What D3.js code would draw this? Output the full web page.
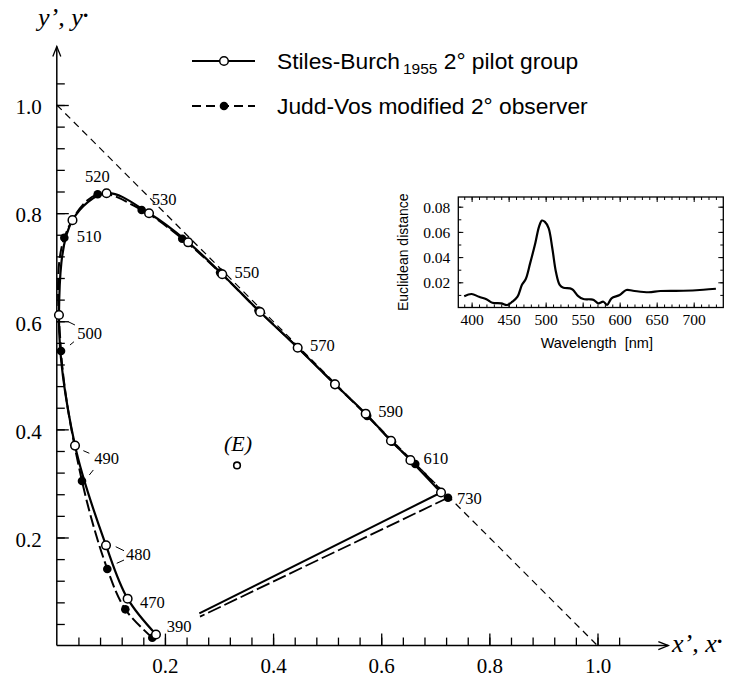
<!DOCTYPE html>
<html>
<head>
<meta charset="utf-8">
<script src="https://cdn.jsdelivr.net/npm/d3@7/dist/d3.min.js"></script>
<style>
  body { margin: 0; background: #fff; }
  svg { display: block; }
</style>
</head>
<body>
<svg id="chart" width="739" height="679"></svg>
<script>
/* chromaticity diagram: Stiles-Burch 1955 vs Judd-Vos, with distance inset */

// ---------- data ----------
const WAVES = [390, 470, 480, 490, 500, 510, 520, 530, 540, 550, 560, 570, 580, 590, 600, 610, 730];
const SB_X = [0.1834, 0.131, 0.091, 0.0337, 0.004, 0.029, 0.092, 0.1706, 0.243, 0.306, 0.376, 0.4455, 0.5145, 0.5713, 0.618, 0.654, 0.7106];
const SB_Y = [0.0206, 0.0868, 0.1855, 0.370, 0.6115, 0.787, 0.8367, 0.7997, 0.746, 0.687, 0.617, 0.551, 0.4833, 0.429, 0.379, 0.343, 0.2832];
const JV_X = [0.1766, 0.1267, 0.0934, 0.0466, 0.0078, 0.0139, 0.0756, 0.157, 0.232, 0.302, 0.373, 0.445, 0.5135, 0.574, 0.620, 0.663, 0.7235];
const JV_Y = [0.0146, 0.0671, 0.1417, 0.3045, 0.545, 0.7545, 0.8348, 0.8058, 0.7527, 0.690, 0.620, 0.552, 0.4845, 0.425, 0.377, 0.336, 0.2735];

// purple line ends (the lines start at the 730 points)
const SB_PURPLE_END = [0.2636, 0.0595];
const JV_PURPLE_END = [0.2648, 0.0535];

const E_POINT = [0.3333, 0.3333];

const X_TICKS = [0.2, 0.4, 0.6, 0.8, 1.0];
const Y_TICKS = [0.2, 0.4, 0.6, 0.8, 1.0];

// inset: Euclidean distance vs wavelength
const INSET_NM = [390, 400, 410, 420, 428, 440, 448, 455, 462, 468, 473, 479, 486, 491, 495, 499, 504, 509, 514, 519, 524, 533, 537, 544, 551, 560, 565, 571, 578, 583, 589, 600, 609, 618, 639, 655, 686, 713, 730];
const INSET_D = [0.009, 0.0107, 0.0085, 0.0066, 0.0038, 0.0033, 0.002, 0.0046, 0.0086, 0.018, 0.0224, 0.035, 0.051, 0.064, 0.069, 0.068, 0.063, 0.047, 0.028, 0.018, 0.0157, 0.0152, 0.014, 0.009, 0.0067, 0.0065, 0.006, 0.0033, 0.0046, 0.002, 0.0073, 0.0099, 0.0139, 0.0133, 0.0121, 0.0131, 0.0133, 0.0141, 0.0149];
const INSET_X_TICKS = [400, 450, 500, 550, 600, 650, 700];
const INSET_Y_TICKS = [0.02, 0.04, 0.06, 0.08];

const LEGEND = ["Stiles-Burch", "1955", " 2° pilot group", "Judd-Vos modified 2° observer"];

// ---------- layout ----------
const SERIF = "'Liberation Serif', 'Times New Roman', serif";
const SANS = "'Liberation Sans', Arial, sans-serif";

// label offsets (px) from the Stiles-Burch point, with optional leader lines
const labelPos = {
  390: { dx: 10.7, dy: -2.8 },
  470: { dx: 12.4, dy: 9.6 },
  480: { dx: 20, dy: 14.7, leaders: [[-10.3, -13.3, -2, -9.3], [-9.3, 3.3, -2, 0]] },
  490: { dx: 19.3, dy: 18.4, leaders: [[-11, -13.3, -5, -10.7], [-5, 11, -1, 6]] },
  500: { dx: 18.3, dy: 24.3, leaders: [[-9, -17.6, -2.3, -14.3], [-7.3, 5.7, -3.3, 2.4]] },
  510: { dx: 4.2, dy: 21.6 },
  520: { dx: -21.5, dy: -11.3 },
  530: { dx: 2.7, dy: -8.3 },
  550: { dx: 12.2, dy: 3.3 },
  570: { dx: 12.3, dy: 3 },
  590: { dx: 12.6, dy: 3.6 },
  610: { dx: 13, dy: 3.5 },
  730: { dx: 16, dy: 11 }
};

const svg = d3.select("#chart");

const x = d3.scaleLinear().domain([0, 1]).range([56.8, 597.5]);
const y = d3.scaleLinear().domain([0, 1]).range([645.6, 105]);

// ---------- main axes ----------
function stripDomain(sel) { sel.select(".domain").remove(); }

const gx = svg.append("g").attr("transform", `translate(0,${y(0)})`);
gx.call(d3.axisBottom(x).tickValues(d3.range(1, 27).map(i => i * 0.04)).tickSize(-8).tickFormat(""))
  .call(stripDomain);
const gxMaj = svg.append("g").attr("transform", `translate(0,${y(0)})`);
gxMaj.call(d3.axisBottom(x).tickValues(X_TICKS).tickSize(-12).tickPadding(12).tickFormat(d3.format(".1f")))
  .call(stripDomain);

const gy = svg.append("g").attr("transform", `translate(${x(0)},0)`);
gy.call(d3.axisLeft(y).tickValues(d3.range(1, 27).map(i => i * 0.04)).tickSize(-8).tickFormat(""))
  .call(stripDomain);
const gyMaj = svg.append("g").attr("transform", `translate(${x(0)},0)`);
gyMaj.call(d3.axisLeft(y).tickValues(Y_TICKS).tickSize(-12).tickPadding(15).tickFormat(d3.format(".1f")))
  .call(stripDomain);

[gx, gxMaj, gy, gyMaj].forEach(g => {
  g.attr("font-family", SERIF).attr("font-size", 21);
  g.selectAll("line").attr("stroke-width", 1.3);
});
gyMaj.selectAll("text").attr("dy", "0.42em");

// axis lines with open arrowheads
const xEnd = 1.131, yEnd = 1.108;
svg.append("line").attr("x1", x(0)).attr("y1", y(0)).attr("x2", x(xEnd)).attr("y2", y(0))
  .attr("stroke", "#000").attr("stroke-width", 1.5);
svg.append("line").attr("x1", x(0)).attr("y1", y(0)).attr("x2", x(0)).attr("y2", y(yEnd))
  .attr("stroke", "#000").attr("stroke-width", 1.5);
svg.append("polyline")
  .attr("points", `${x(xEnd) - 10},${y(0) - 4} ${x(xEnd)},${y(0)} ${x(xEnd) - 10},${y(0) + 4}`)
  .attr("fill", "none").attr("stroke", "#000").attr("stroke-width", 1.3);
svg.append("polyline")
  .attr("points", `${x(0) - 4},${y(yEnd) + 10} ${x(0)},${y(yEnd)} ${x(0) + 4},${y(yEnd) + 10}`)
  .attr("fill", "none").attr("stroke", "#000").attr("stroke-width", 1.3);

// axis titles
const yTitle = svg.append("text").attr("x", 38).attr("y", 26)
  .attr("font-family", SERIF).attr("font-style", "italic").attr("font-size", 26);
yTitle.append("tspan").text("y’, y");
yTitle.append("tspan").attr("dy", -4).attr("font-size", 22).attr("font-weight", "bold").text("·");

const xTitle = svg.append("text").attr("x", 672).attr("y", 652)
  .attr("font-family", SERIF).attr("font-style", "italic").attr("font-size", 26);
xTitle.append("tspan").text("x’, x");
xTitle.append("tspan").attr("dy", -4).attr("font-size", 22).attr("font-weight", "bold").text("·");

// x + y = 1 dashed line
svg.append("line")
  .attr("x1", x(0)).attr("y1", y(1)).attr("x2", x(1)).attr("y2", y(0))
  .attr("stroke", "#000").attr("stroke-width", 1.2).attr("stroke-dasharray", "7,5");

// ---------- loci ----------
const sbPts = WAVES.map((w, i) => [SB_X[i], SB_Y[i]]);
const jvPts = WAVES.map((w, i) => [JV_X[i], JV_Y[i]]);

const locus = d3.line()
  .x(d => x(d[0])).y(d => y(d[1]))
  .curve(d3.curveCatmullRom.alpha(0.5));

// Judd-Vos first, Stiles-Burch on top
svg.append("path").datum(jvPts).attr("d", locus)
  .attr("fill", "none").attr("stroke", "#000").attr("stroke-width", 2)
  .attr("stroke-dasharray", "12,4");
svg.append("line")
  .attr("x1", x(JV_X[JV_X.length - 1])).attr("y1", y(JV_Y[JV_Y.length - 1]))
  .attr("x2", x(JV_PURPLE_END[0])).attr("y2", y(JV_PURPLE_END[1]))
  .attr("stroke", "#000").attr("stroke-width", 1.8).attr("stroke-dasharray", "14,4");

svg.append("path").datum(sbPts).attr("d", locus)
  .attr("fill", "none").attr("stroke", "#000").attr("stroke-width", 2.2);
svg.append("line")
  .attr("x1", x(SB_X[SB_X.length - 1])).attr("y1", y(SB_Y[SB_Y.length - 1]))
  .attr("x2", x(SB_PURPLE_END[0])).attr("y2", y(SB_PURPLE_END[1]))
  .attr("stroke", "#000").attr("stroke-width", 2);

svg.append("g").selectAll("circle").data(jvPts).join("circle")
  .attr("cx", d => x(d[0])).attr("cy", d => y(d[1])).attr("r", 4.3)
  .attr("fill", "#000");

svg.append("g").selectAll("circle").data(sbPts).join("circle")
  .attr("cx", d => x(d[0])).attr("cy", d => y(d[1])).attr("r", 4.3)
  .attr("fill", "#fff").attr("stroke", "#000").attr("stroke-width", 1.5);

// wavelength labels
const labelG = svg.append("g").attr("font-family", SERIF).attr("font-size", 16.5);
WAVES.forEach((w, i) => {
  const p = labelPos[w];
  if (!p) return;
  const lx = x(SB_X[i]) + p.dx, ly = y(SB_Y[i]) + p.dy;
  labelG.append("text").attr("x", lx).attr("y", ly).text(w);
  (p.leaders || []).forEach(s => {
    labelG.append("line")
      .attr("x1", lx + s[0]).attr("y1", ly + s[1]).attr("x2", lx + s[2]).attr("y2", ly + s[3])
      .attr("stroke", "#000").attr("stroke-width", 1);
  });
});

// equal-energy point
svg.append("circle").attr("cx", x(E_POINT[0])).attr("cy", y(E_POINT[1])).attr("r", 3.3)
  .attr("fill", "#fff").attr("stroke", "#000").attr("stroke-width", 1.6);
svg.append("text").attr("x", x(E_POINT[0]) + 1).attr("y", y(E_POINT[1]) - 14)
  .attr("text-anchor", "middle").attr("font-family", SERIF).attr("font-style", "italic")
  .attr("font-size", 22).text("(E)");

// ---------- legend ----------
const lg = svg.append("g");
lg.append("line").attr("x1", 192).attr("y1", 61).attr("x2", 255).attr("y2", 61)
  .attr("stroke", "#000").attr("stroke-width", 2.2);
lg.append("circle").attr("cx", 224).attr("cy", 61).attr("r", 4.3)
  .attr("fill", "#fff").attr("stroke", "#000").attr("stroke-width", 1.5);
lg.append("line").attr("x1", 192).attr("y1", 106).attr("x2", 255).attr("y2", 106)
  .attr("stroke", "#000").attr("stroke-width", 2).attr("stroke-dasharray", "9,5");
lg.append("circle").attr("cx", 224).attr("cy", 106).attr("r", 4.3).attr("fill", "#000");

const t1 = lg.append("text").attr("x", 277).attr("y", 69)
  .attr("font-family", SANS).attr("font-size", 22.8);
t1.append("tspan").text(LEGEND[0]);
t1.append("tspan").attr("dx", 3).attr("dy", 5).attr("font-size", 15.5).text(LEGEND[1]);
t1.append("tspan").attr("dy", -5).text(LEGEND[2]);
lg.append("text").attr("x", 277).attr("y", 114)
  .attr("font-family", SANS).attr("font-size", 22.8).text(LEGEND[3]);

// ---------- inset ----------
const xi = d3.scaleLinear().domain([382, 740]).range([458.3, 723.3]);
const yi = d3.scaleLinear().domain([0, 0.0877]).range([307.5, 197]);
const [ix0, ix1] = xi.range();
const [iy0, iy1] = yi.range();

const ig = svg.append("g");
ig.append("rect").attr("x", ix0).attr("y", iy1).attr("width", ix1 - ix0).attr("height", iy0 - iy1)
  .attr("fill", "none").attr("stroke", "#000").attr("stroke-width", 1.3);

const nmMinor = d3.range(390, 740, 10);
const dMinor = d3.range(1, 9).map(i => i * 0.01);

function insetAxis(axis, tx, ty, labels) {
  const g = ig.append("g").attr("transform", `translate(${tx},${ty})`).call(axis).call(stripDomain);
  g.attr("font-family", SERIF).attr("font-size", 15.5);
  g.selectAll("line").attr("stroke-width", 1);
  if (!labels) g.selectAll("text").remove();
  return g;
}
// bottom / top
insetAxis(d3.axisBottom(xi).tickValues(nmMinor).tickSize(-3).tickFormat(""), 0, iy0, false);
insetAxis(d3.axisBottom(xi).tickValues(INSET_X_TICKS).tickSize(-5).tickPadding(6), 0, iy0, true);
insetAxis(d3.axisTop(xi).tickValues(nmMinor).tickSize(-3).tickFormat(""), 0, iy1, false);
insetAxis(d3.axisTop(xi).tickValues(INSET_X_TICKS).tickSize(-5), 0, iy1, false);
// left / right
insetAxis(d3.axisLeft(yi).tickValues(dMinor).tickSize(-3).tickFormat(""), ix0, 0, false);
const iyl = insetAxis(d3.axisLeft(yi).tickValues(INSET_Y_TICKS).tickSize(-5).tickPadding(8).tickFormat(d3.format(".2f")), ix0, 0, true);
iyl.selectAll("text").attr("dy", "0.36em");
insetAxis(d3.axisRight(yi).tickValues(dMinor).tickSize(-3).tickFormat(""), ix1, 0, false);
insetAxis(d3.axisRight(yi).tickValues(INSET_Y_TICKS).tickSize(-5), ix1, 0, false);

ig.append("path")
  .datum(INSET_NM.map((w, i) => [w, INSET_D[i]]))
  .attr("d", d3.line().x(d => xi(d[0])).y(d => yi(d[1])).curve(d3.curveCatmullRom.alpha(0.5)))
  .attr("fill", "none").attr("stroke", "#000").attr("stroke-width", 2.2).attr("stroke-linejoin", "round");

ig.append("text").attr("x", (ix0 + ix1) / 2 + 6).attr("y", 348)
  .attr("text-anchor", "middle").attr("font-family", SANS).attr("font-size", 14.5)
  .attr("xml:space", "preserve").text("Wavelength  [nm]");
ig.append("text")
  .attr("transform", `translate(408,${(iy0 + iy1) / 2}) rotate(-90)`)
  .attr("text-anchor", "middle").attr("font-family", SANS).attr("font-size", 14)
  .text("Euclidean distance");
</script>
</body>
</html>
